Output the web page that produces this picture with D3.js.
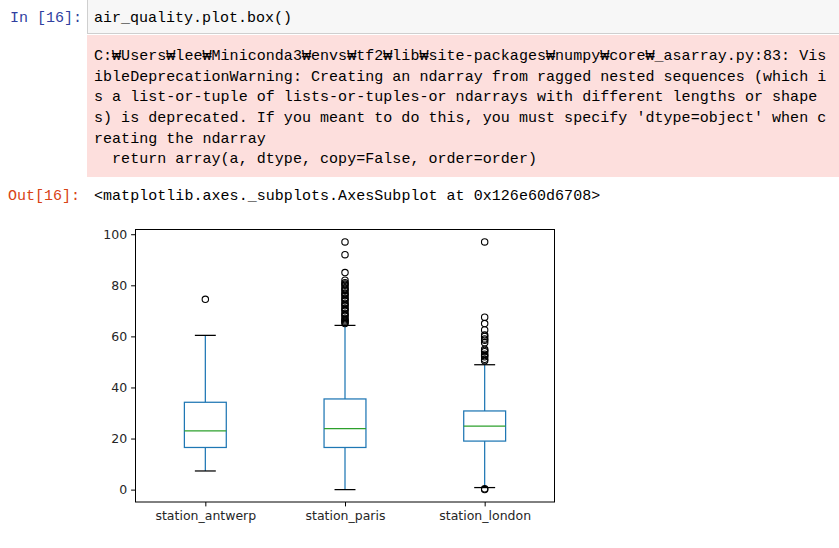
<!DOCTYPE html>
<html>
<head>
<meta charset="utf-8">
<script src="https://cdn.jsdelivr.net/npm/d3@7"></script>
<style>
  body { margin: 0; background: #fff; }
  svg { display: block; }
</style>
</head>
<body>
<div id="nb"></div>
<script>
//
// data
//
var codeLine = 'air_quality.plot.box()'
var warnLines = [
  'C:\u20a9Users\u20a9lee\u20a9Miniconda3\u20a9envs\u20a9tf2\u20a9lib\u20a9site-packages\u20a9numpy\u20a9core\u20a9_asarray.py:83: Vis',
  'ibleDeprecationWarning: Creating an ndarray from ragged nested sequences (which i',
  's a list-or-tuple of lists-or-tuples-or ndarrays with different lengths or shape',
  "s) is deprecated. If you meant to do this, you must specify 'dtype=object' when c",
  'reating the ndarray',
  '  return array(a, dtype, copy=False, order=order)'
]
var outLine = '<matplotlib.axes._subplots.AxesSubplot at 0x126e60d6708>'

var stations = ['station_antwerp', 'station_paris', 'station_london']
var q1 = [16.5, 16.5, 19.0]
var medians = [23.0, 23.9, 24.9]
var q3 = [34.2, 35.5, 30.8]
var whiskLo = [7.3, 0.0, 0.8]
var whiskHi = [60.4, 64.3, 48.9]
var outliers = [
  [74.5],
  [97, 92, 85, 82, 81, 80.5, 80, 79, 78.5, 78, 77, 76.5, 76, 75, 74.5, 74, 73, 72.5, 72, 71, 70.5, 70, 69, 68.5, 68, 67, 66.5, 66, 65.5, 65],
  [97, 67.5, 65, 62.5, 60.5, 60, 59, 58.5, 57.5, 55, 54.5, 54, 53, 52.5, 52, 51, 50.5, 0, 0.3]
]
var yTicks = [0, 20, 40, 60, 80, 100]

//
// notebook page
//
var W = 839, H = 548
var svg = d3.select('#nb').append('svg').attr('width', W).attr('height', H)
var mono = "'Liberation Mono', 'DejaVu Sans Mono', monospace"
var cw = 9.04

svg.append('rect').attr('x', 87.5).attr('y', -1).attr('width', 760).attr('height', 34.5)
  .attr('fill', '#f7f7f7').attr('stroke', '#cfcfcf')
svg.append('text').attr('x', 10).attr('y', 22).attr('fill', '#303F9F')
  .style('font-family', mono).style('font-size', '15px').text('In [16]:')
svg.append('text').attr('x', 94).attr('y', 22).attr('fill', '#000')
  .style('font-family', mono).style('font-size', '15px').text(codeLine)

svg.append('rect').attr('x', 87).attr('y', 35).attr('width', 752).attr('height', 142)
  .attr('fill', '#fddfdd')
svg.selectAll('.warn').data(warnLines).enter().append('text')
  .attr('class', 'warn')
  .attr('x', 94)
  .attr('y', function(d, i) { return 60 + i * 20.65 })
  .attr('textLength', function(d) { return d.length * cw })
  .attr('lengthAdjust', 'spacing')
  .style('font-family', mono).style('font-size', '15px').attr('fill', '#000')
  .style('white-space', 'pre')
  .text(function(d) { return d })

svg.append('text').attr('x', 8).attr('y', 200).attr('fill', '#D84315')
  .style('font-family', mono).style('font-size', '15px').text('Out[16]:')
svg.append('text').attr('x', 94).attr('y', 200).attr('fill', '#000')
  .attr('textLength', outLine.length * cw).attr('lengthAdjust', 'spacing')
  .style('font-family', mono).style('font-size', '15px').text(outLine)

//
// box plot
//
var axL = 135.5, axR = 554.5, axT = 229.5, axB = 502
var x = d3.scaleLinear().domain([0.5, 3.5]).range([axL, axR])
var y = d3.scaleLinear().domain([-4.85, 101.85]).range([axB, axT])
var ux = x(1) - x(0)
var boxW = 0.3 * ux, capW = 0.15 * ux
var blue = '#1f77b4', green = '#2ca02c'
var lw = 1.25

var g = svg.append('g')
var font = "'DejaVu Sans', sans-serif"

g.append('g').attr('transform', 'translate(' + axL + ',0)')
  .call(d3.axisLeft(y).tickValues(yTicks).tickSize(4.4).tickPadding(4))
g.append('g').attr('transform', 'translate(0,' + axB + ')')
  .call(d3.axisBottom(x).tickValues([1, 2, 3]).tickSize(4.4).tickPadding(5)
    .tickFormat(function(d) { return stations[d - 1] }))
g.selectAll('.domain').remove()
g.selectAll('.tick line').attr('stroke', '#000').attr('stroke-width', 1)
g.selectAll('.tick text').attr('fill', '#262626').style('font-family', font).style('font-size', '12.5px')

stations.forEach(function(s, i) {
  var cx = x(i + 1)
  var sg = g.append('g')
  // whiskers
  sg.append('line').attr('x1', cx).attr('x2', cx).attr('y1', y(q1[i])).attr('y2', y(whiskLo[i]))
    .attr('stroke', blue).attr('stroke-width', lw)
  sg.append('line').attr('x1', cx).attr('x2', cx).attr('y1', y(q3[i])).attr('y2', y(whiskHi[i]))
    .attr('stroke', blue).attr('stroke-width', lw)
  // caps
  ;[whiskLo[i], whiskHi[i]].forEach(function(v) {
    sg.append('line').attr('x1', cx - capW / 2).attr('x2', cx + capW / 2).attr('y1', y(v)).attr('y2', y(v))
      .attr('stroke', '#000').attr('stroke-width', lw)
  })
  // box
  sg.append('rect').attr('x', cx - boxW / 2).attr('width', boxW)
    .attr('y', y(q3[i])).attr('height', y(q1[i]) - y(q3[i]))
    .attr('fill', 'none').attr('stroke', blue).attr('stroke-width', lw)
  // median
  sg.append('line').attr('x1', cx - boxW / 2).attr('x2', cx + boxW / 2)
    .attr('y1', y(medians[i])).attr('y2', y(medians[i]))
    .attr('stroke', green).attr('stroke-width', lw)
  // fliers
  sg.selectAll('circle').data(outliers[i]).enter().append('circle')
    .attr('cx', cx).attr('cy', function(d) { return y(d) }).attr('r', 3.2)
    .attr('fill', 'none').attr('stroke', '#000').attr('stroke-width', 1.1)
})

// frame
g.append('rect').attr('x', axL).attr('y', axT).attr('width', axR - axL).attr('height', axB - axT)
  .attr('fill', 'none').attr('stroke', '#000').attr('stroke-width', 1)
</script>
</body>
</html>
